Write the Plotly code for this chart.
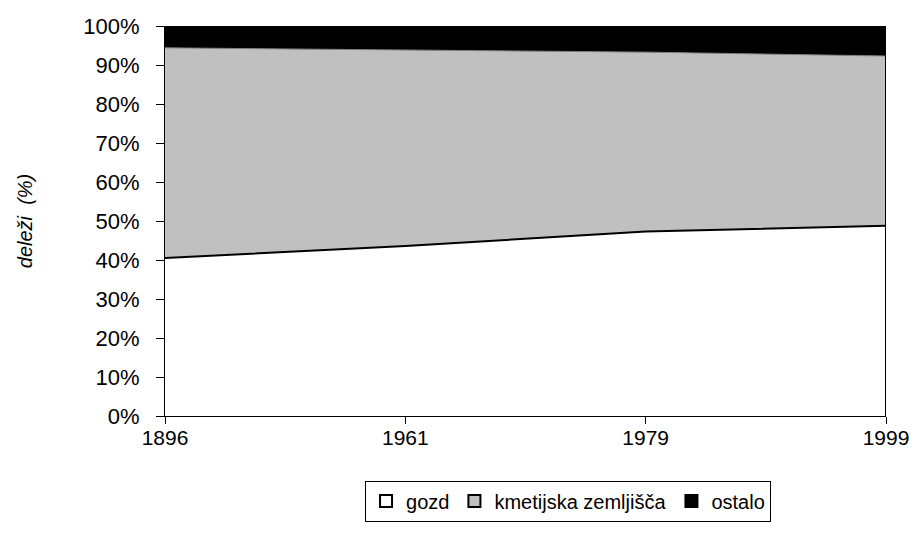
import plotly.graph_objects as go

years = ["1896", "1961", "1979", "1999"]
gozd = [40.5, 43.6, 47.3, 48.8]
kmetijska = [53.9, 50.3, 46.0, 43.5]
ostalo = [round(100 - g - k, 2) for g, k in zip(gozd, kmetijska)]

fig = go.Figure()
fig.add_trace(go.Scatter(x=years, y=gozd, stackgroup="s", name="gozd",
                         fillcolor="#ffffff", line=dict(color="#000000", width=2),
                         mode="lines", showlegend=False))
fig.add_trace(go.Scatter(x=years, y=kmetijska, stackgroup="s", name="kmetijska zemljišča",
                         fillcolor="#c0c0c0", line=dict(color="#808080", width=1),
                         mode="lines", showlegend=False))
fig.add_trace(go.Scatter(x=years, y=ostalo, stackgroup="s", name="ostalo",
                         fillcolor="#000000", line=dict(color="#000000", width=1),
                         mode="lines", showlegend=False))

for name, col in [("gozd", "#ffffff"), ("kmetijska zemljišča", "#c0c0c0"), ("ostalo", "#000000")]:
    fig.add_trace(go.Scatter(x=[None], y=[None], mode="markers", name=name,
                             marker=dict(symbol="square", size=13, color=col,
                                         line=dict(color="#000000", width=1))))

fig.update_layout(
    width=917, height=543,
    margin=dict(l=157, r=39, t=18, b=135, autoexpand=False),
    paper_bgcolor="white", plot_bgcolor="white",
    font=dict(family="Liberation Sans, Arial, sans-serif", size=21, color="#000000"),
    xaxis=dict(type="category", range=[0, 3], showgrid=False, zeroline=False,
               showline=True, linecolor="#000000", linewidth=1,
               ticks="outside", ticklen=7, tickcolor="#000000",
               automargin=False, fixedrange=True, tickfont=dict(size=21),
               ticklabelstandoff=-4),
    yaxis=dict(range=[0, 100], dtick=10, ticksuffix="%", showgrid=False, zeroline=False,
               showline=True, linecolor="#000000", linewidth=1,
               ticks="outside", ticklen=8, tickcolor="#000000", automargin=False,
               tickfont=dict(size=22), ticklabelstandoff=12,
               title=dict(text="<i>deleži  (%)</i>", standoff=45, font=dict(size=20))),
    legend=dict(orientation="h", x=0.559, y=-0.218, xanchor="center", yanchor="middle",
                bordercolor="#000000", borderwidth=1, font=dict(size=20),
                traceorder="normal", itemsizing="constant", tracegroupgap=0, itemwidth=30),
    showlegend=True,
)
fig.add_shape(type="line", xref="x", yref="paper", x0=3, x1=3, y0=0, y1=1,
              line=dict(color="#000000", width=2))

fig.write_html("out.html")
